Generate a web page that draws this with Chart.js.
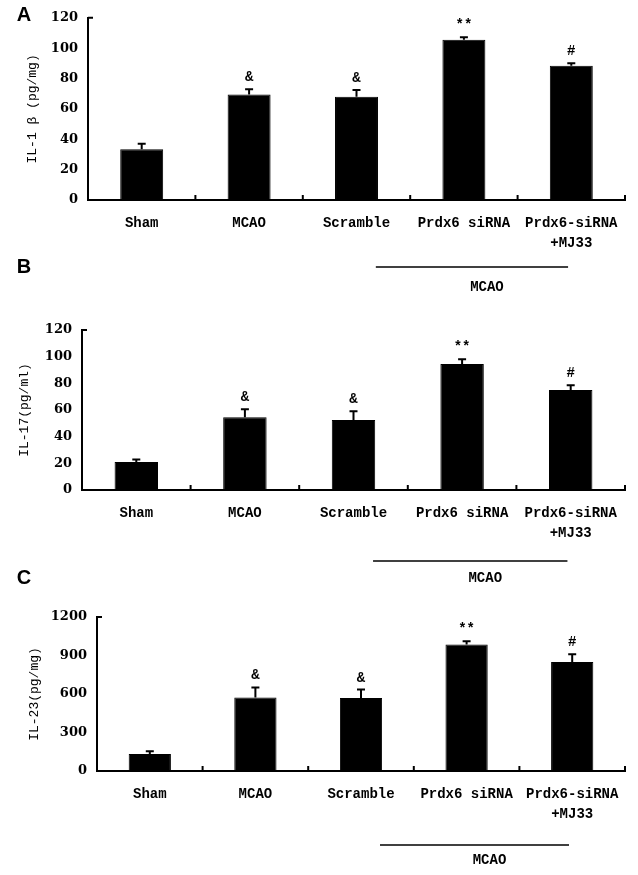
<!DOCTYPE html>
<html>
<head>
<meta charset="utf-8">
<script src="https://cdn.jsdelivr.net/npm/chart.js@4.4.1/dist/chart.umd.min.js"></script>
<style>
  body { margin: 0; background: #fff; width: 638px; height: 875px; position: relative; overflow: hidden }
  canvas { position: absolute; left: 0 }
</style>
</head>
<body>
<canvas id="chartA" width="638" height="300" style="top:0px"></canvas>
<canvas id="chartB" width="638" height="335" style="top:255px"></canvas>
<canvas id="chartC" width="638" height="310" style="top:565px"></canvas>
<script>
const groups = ['Sham', 'MCAO', 'Scramble', 'Prdx6 siRNA', ['Prdx6-siRNA', '+MJ33']]
const marks = ['', '&', '&', '**', '#']
const bracketLabel = 'MCAO'

const il1bMean = [33.5, 69.5, 68, 105.5, 88.5]
const il1bErr = [3.5, 3.5, 4.5, 1.7, 1.5]
const il1bTicks = [0, 20, 40, 60, 80, 100, 120]

const il17Mean = [21, 54.5, 52.5, 94.5, 75]
const il17Err = [1.8, 6, 6.5, 3.5, 3.5]
const il17Ticks = [0, 20, 40, 60, 80, 100, 120]

const il23Mean = [132, 573, 568, 985, 850]
const il23Err = [22, 78, 67, 26, 60]
const il23Ticks = [0, 300, 600, 900, 1200]

const monoFont = 'Liberation Mono, DejaVu Sans Mono, monospace'

// error bars, significance marks, axis ticks, MCAO bracket and panel letter
const panelExtras = {
  id: 'panelExtras',
  afterDatasetsDraw(chart, args, opts) {
    const { ctx, chartArea, scales: { x, y } } = chart
    const meta = chart.getDatasetMeta(0)
    const means = chart.data.datasets[0].data
    const step = x.getPixelForValue(1) - x.getPixelForValue(0)

    ctx.save()
    ctx.strokeStyle = '#000'
    ctx.fillStyle = '#000'
    ctx.lineWidth = 2

    meta.data.forEach((bar, i) => {
      const top = y.getPixelForValue(means[i] + opts.err[i])
      ctx.beginPath()
      ctx.moveTo(bar.x, bar.y)
      ctx.lineTo(bar.x, top)
      ctx.moveTo(bar.x - 4, top)
      ctx.lineTo(bar.x + 4, top)
      ctx.stroke()
      if (marks[i]) {
        ctx.font = 'bold 14px ' + monoFont
        ctx.textAlign = 'center'
        ctx.textBaseline = 'alphabetic'
        ctx.fillText(marks[i], bar.x, top - 8)
      }
    })

    // small upward ticks between categories and at the right end
    ctx.beginPath()
    for (let i = 0; i < groups.length; i++) {
      const bx = x.getPixelForValue(i) + step / 2
      ctx.moveTo(bx, chartArea.bottom)
      ctx.lineTo(bx, chartArea.bottom - 5)
    }
    // stub at the top of the y axis
    ctx.moveTo(chartArea.left, chartArea.top)
    ctx.lineTo(chartArea.left + 5, chartArea.top)
    ctx.stroke()

    // MCAO bracket line
    const x1 = x.getPixelForValue(2) + 0.18 * step
    const x2 = x.getPixelForValue(4) - 0.03 * step
    const ly = chartArea.bottom + opts.lineGap
    ctx.lineWidth = 1.5
    ctx.beginPath()
    ctx.moveTo(x1, ly)
    ctx.lineTo(x2, ly)
    ctx.stroke()
    ctx.font = 'bold 14px ' + monoFont
    ctx.textAlign = 'center'
    ctx.textBaseline = 'middle'
    ctx.fillText(bracketLabel, (x1 + x2) / 2 + 15, ly + opts.textGap)

    // panel letter
    ctx.font = 'bold 20px Liberation Sans, Arial, sans-serif'
    ctx.fillText(opts.letter, 24, opts.letterY)
    ctx.restore()
  }
}

function makePanel(id, letter, title, means, errs, ticks, box) {
  return new Chart(document.getElementById(id), {
    type: 'bar',
    data: {
      labels: groups,
      datasets: [{
        data: means,
        backgroundColor: '#000',
        borderColor: '#000',
        borderWidth: 1,
        barPercentage: 0.4,
        categoryPercentage: 1
      }]
    },
    options: {
      responsive: false,
      animation: false,
      devicePixelRatio: 1,
      layout: { padding: { top: box.top, left: 0, right: 13, bottom: 0 } },
      plugins: {
        legend: { display: false },
        tooltip: { enabled: false },
        panelExtras: { letter, err: errs, lineGap: box.lineGap, textGap: box.textGap, letterY: box.letterY }
      },
      scales: {
        x: {
          grid: { display: false, drawTicks: false },
          border: { color: '#000', width: 2 },
          ticks: {
            color: '#000',
            padding: 13,
            maxRotation: 0,
            autoSkip: false,
            font: { family: monoFont, size: 14, weight: 'bold', lineHeight: 1.43 }
          },
          afterFit: (s) => { s.height = box.xh }
        },
        y: {
          min: ticks[0],
          max: ticks[ticks.length - 1],
          grid: { display: false, drawTicks: false },
          border: { color: '#000', width: 2 },
          ticks: {
            stepSize: ticks[1] - ticks[0],
            color: '#000',
            padding: 10,
            font: { family: 'DejaVu Serif, serif', size: 13, weight: 'bold' },
            callback: (v) => String(v)
          },
          title: {
            display: true,
            text: title,
            color: '#000',
            font: { family: monoFont, size: 13 },
            padding: { top: box.titlePad, bottom: 0 }
          },
          afterFit: (s) => { s.width = box.left }
        }
      }
    },
    plugins: [panelExtras]
  })
}

makePanel('chartA', 'A', 'IL-1 β (pg/mg)', il1bMean, il1bErr, il1bTicks,
  { top: 16, left: 88, xh: 100, titlePad: 25, lineGap: 67, textGap: 20, letterY: 15 })
makePanel('chartB', 'B', 'IL-17(pg/ml)', il17Mean, il17Err, il17Ticks,
  { top: 75, left: 82, xh: 100, titlePad: 17, lineGap: 71, textGap: 17, letterY: 12 })
makePanel('chartC', 'C', 'IL-23(pg/mg)', il23Mean, il23Err, il23Ticks,
  { top: 52, left: 97, xh: 104, titlePad: 27, lineGap: 74, textGap: 15, letterY: 13 })
</script>
</body>
</html>
